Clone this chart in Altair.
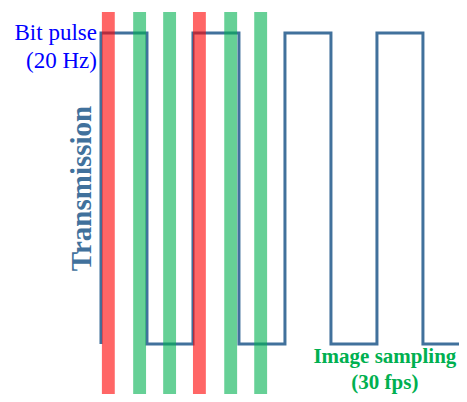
import altair as alt
import pandas as pd

# Bit pulse (20 Hz): transition times in ms, first level, end of trace
edge_times_ms = [0, 25, 50, 75, 100, 125, 150, 175]
start_level = 0
end_time_ms = 194.6

# Image sampling frames: start time (ms), kind
frame_start_ms = [0.5, 17.5, 33.8, 50, 67, 83.3]
frame_kind = ["edge", "mid", "mid", "edge", "mid", "mid"]
exposure_ms = 7

X_DOMAIN = [-50.54, 194.6]
Y_DOMAIN = [-0.1608, 1.0804]
BAR_TOP = 1.0675

# build square wave corner points
pts = []
lvl = start_level
order = 0
for t in edge_times_ms:
    pts.append({"t": t, "v": lvl, "o": order}); order += 1
    lvl = 1 - lvl
    pts.append({"t": t, "v": lvl, "o": order}); order += 1
pts.append({"t": end_time_ms, "v": lvl, "o": order})
wave = pd.DataFrame(pts)

frames = pd.DataFrame({
    "t0": frame_start_ms,
    "t1": [s + exposure_ms for s in frame_start_ms],
    "kind": frame_kind,
    "top": [BAR_TOP] * len(frame_start_ms),
    "bot": [Y_DOMAIN[0]] * len(frame_start_ms),
})

xs = alt.Scale(domain=X_DOMAIN, nice=False, zero=False)
ys = alt.Scale(domain=Y_DOMAIN, nice=False, zero=False)

line = alt.Chart(wave).mark_line(
    color="#41719C", strokeWidth=3, strokeJoin="miter", clip=False
).encode(
    x=alt.X("t:Q", scale=xs, axis=None),
    y=alt.Y("v:Q", scale=ys, axis=None),
    order="o:Q",
)

bars = alt.Chart(frames).mark_rect(opacity=0.6, clip=False).encode(
    x=alt.X("t0:Q", scale=xs, axis=None),
    x2="t1:Q",
    y=alt.Y("top:Q", scale=ys, axis=None),
    y2="bot:Q",
    color=alt.Color("kind:N", scale=alt.Scale(domain=["edge", "mid"], range=["#FF0000", "#00B050"]), legend=None),
)

bit_txt = alt.Chart(pd.DataFrame({"t": [-2.2], "v": [0.9775]})).mark_text(
    text=["Bit pulse", "(20 Hz)"], align="right", baseline="alphabetic",
    font="Liberation Serif", fontSize=23, color="#0000FF", lineHeight=28,
).encode(x=alt.X("t:Q", scale=xs), y=alt.Y("v:Q", scale=ys))

trans_txt = alt.Chart(pd.DataFrame({"t": [-10.3], "v": [0.5]})).mark_text(
    text="Transmission", align="center", baseline="middle", angle=270,
    font="Liberation Serif", fontSize=29, fontWeight="bold", color="#41719C",
).encode(x=alt.X("t:Q", scale=xs), y=alt.Y("v:Q", scale=ys))

img_txt = alt.Chart(pd.DataFrame({"t": [154.3], "v": [-0.0611]})).mark_text(
    text=["Image sampling", "(30 fps)"], align="center", baseline="alphabetic",
    font="Liberation Serif", fontSize=21, fontWeight="bold", color="#00B050", lineHeight=26,
).encode(x=alt.X("t:Q", scale=xs), y=alt.Y("v:Q", scale=ys))

chart = alt.layer(line, bars, bit_txt, trans_txt, img_txt).properties(
    width=451, height=386,
    autosize=alt.AutoSizeParams(type="none"),
    padding=0,
).configure_view(strokeWidth=0)

chart.save("out.html", embed_options={"renderer": "svg", "actions": False})
